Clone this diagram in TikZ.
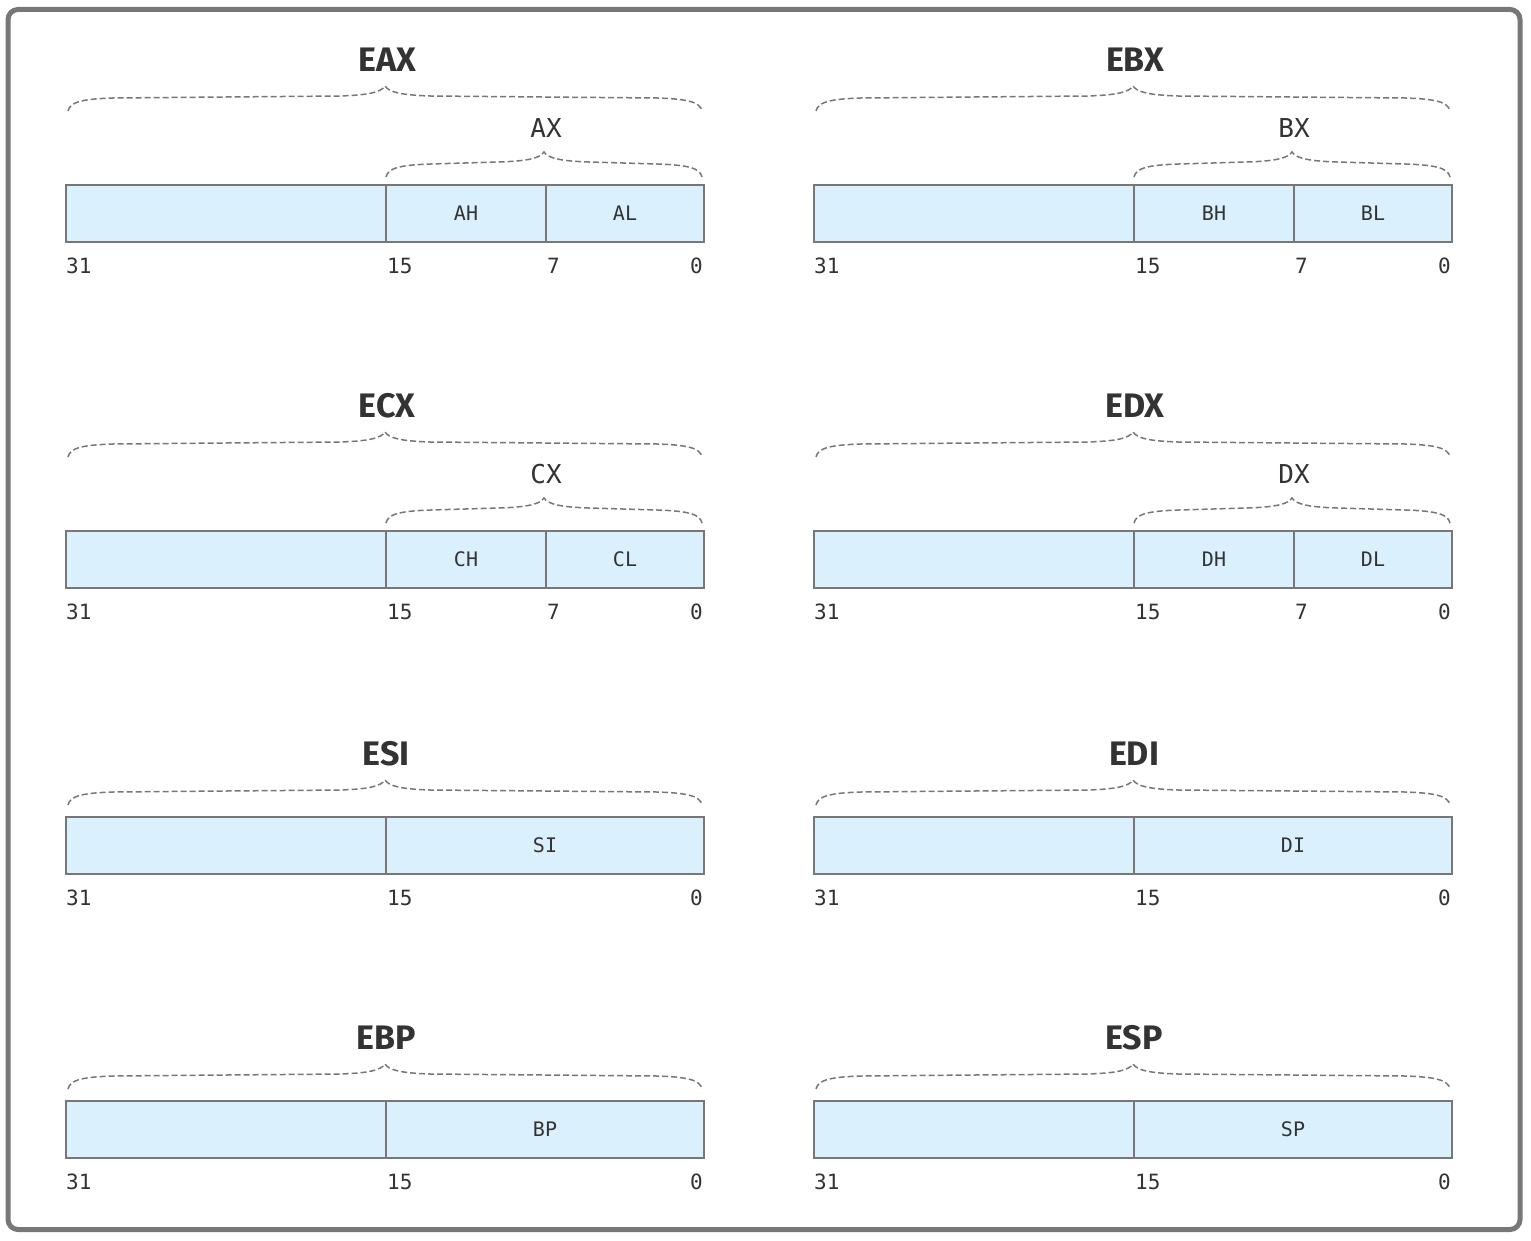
\documentclass[tikz,border=0pt]{standalone}
\usepackage{fontspec}
\setmainfont{Fira Sans}
\newfontfamily\monofont{DejaVu Sans Mono}
\newfontfamily\titlefont{Fira Sans}
\definecolor{frame}{HTML}{777777}
\definecolor{cellfill}{HTML}{DAF0FC}
\definecolor{txt}{HTML}{333333}
\tikzset{
  cell/.style={draw=frame, fill=cellfill, line width=2pt, inner sep=0pt, outer sep=0pt,
    minimum height=57pt, anchor=north west, text=txt, font=\monofont\fontsize{20pt}{20pt}\selectfont},
  bitnum/.style={inner sep=0pt, text=txt, font=\monofont\fontsize{21pt}{21pt}\selectfont},
  regtitle/.style={inner sep=0pt, text=txt, font=\titlefont\bfseries\fontsize{34pt}{34pt}\selectfont},
  sublabel/.style={inner sep=0pt, text=txt, font=\monofont\fontsize{26pt}{26pt}\selectfont},
  bracestyle/.style={draw=frame, line width=1.5pt, dash pattern=on 6pt off 3pt}
}
% brace: x0, x1, bottom y
\newcommand{\mybrace}[3]{%
  \pgfmathsetmacro\xm{(#1+#2)/2}%
  \draw[bracestyle] (#1,#3) .. controls (#1+2,#3-9) and (#1+14,#3-12) .. (#1+45,#3-13)
    -- (\xm-45,#3-15) .. controls (\xm-15,#3-16) and (\xm-4,#3-19) .. (\xm,#3-25)
    .. controls (\xm+4,#3-19) and (\xm+15,#3-16) .. (\xm+45,#3-15)
    -- (#2-45,#3-13) .. controls (#2-14,#3-12) and (#2-2,#3-9) .. (#2,#3);%
}
% general register with high/low bytes: xoff, box top, name, E-name, X-name, H, L
\newcommand{\regfull}[7]{%
  \node[cell, minimum width=320pt] (#3up) at (#1+66,#2) {};
  \node[cell, minimum width=160pt] (#3h) at (#1+386,#2) {#6};
  \node[cell, minimum width=158pt] (#3l) at (#1+546,#2) {#7};
  \node[regtitle] (#3t) at (#1+387,#2-125) {#4};
  \node[sublabel] (#3s) at (#1+546,#2-57) {#5};
  \mybrace{#1+68}{#1+702}{#2-74}
  \mybrace{#1+386}{#1+702}{#2-8}
  \node[bitnum, anchor=west] (#3n31) at (#1+66,#2+81) {31};
  \node[bitnum, anchor=west] (#3n15) at (#1+387,#2+81) {15};
  \node[bitnum, anchor=west] (#3n7) at (#1+547,#2+81) {7};
  \node[bitnum, anchor=east] (#3n0) at (#1+703,#2+81) {0};
}
% register with only 16-bit half: xoff, box top, name, E-name, low name
\newcommand{\reghalf}[5]{%
  \node[cell, minimum width=320pt] (#3up) at (#1+66,#2) {};
  \node[cell, minimum width=318pt] (#3l) at (#1+386,#2) {#5};
  \node[regtitle] (#3t) at (#1+386,#2-63) {#4};
  \mybrace{#1+68}{#1+702}{#2-12}
  \node[bitnum, anchor=west] (#3n31) at (#1+66,#2+81) {31};
  \node[bitnum, anchor=west] (#3n15) at (#1+387,#2+81) {15};
  \node[bitnum, anchor=east] (#3n0) at (#1+703,#2+81) {0};
}
\begin{document}
\begin{tikzpicture}[x=1pt,y=-1pt]
  \useasboundingbox (0,0) rectangle (1531,1241);
  \draw[frame, line width=5pt, rounded corners=10pt] (8,9.5) rectangle (1520,1229.5);
  \regfull{0}{185}{ax}{EAX}{AX}{AH}{AL}
  \regfull{748}{185}{bx}{EBX}{BX}{BH}{BL}
  \regfull{0}{531}{cx}{ECX}{CX}{CH}{CL}
  \regfull{748}{531}{dx}{EDX}{DX}{DH}{DL}
  \reghalf{0}{817}{si}{ESI}{SI}
  \reghalf{748}{817}{di}{EDI}{DI}
  \reghalf{0}{1101}{bp}{EBP}{BP}
  \reghalf{748}{1101}{sp}{ESP}{SP}
\end{tikzpicture}
\end{document}
